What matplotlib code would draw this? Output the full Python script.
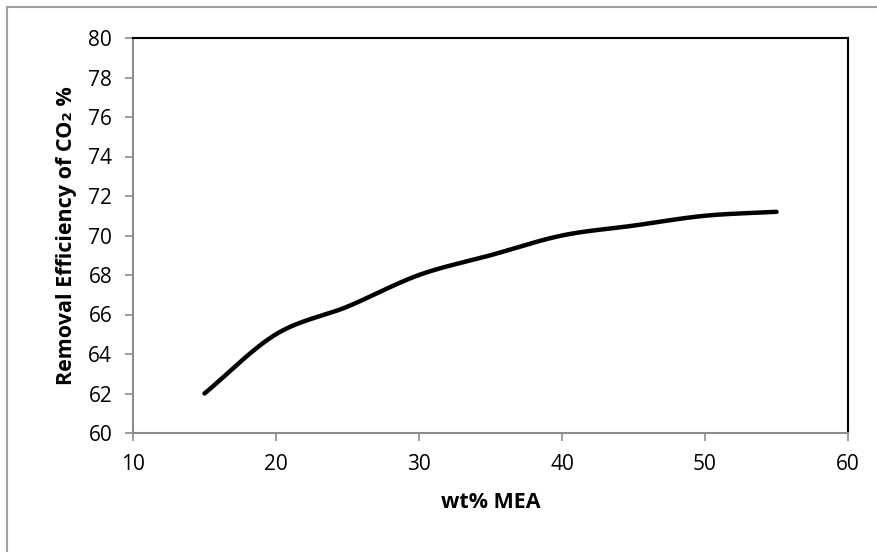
import numpy as np
import matplotlib
matplotlib.use("Agg")
import matplotlib.pyplot as plt
from matplotlib.patches import Rectangle

wt_mea = [15, 20, 25, 30, 35, 40, 45, 50, 55]
efficiency = [62.0, 65.0, 66.4, 68.0, 69.0, 70.0, 70.5, 71.0, 71.2]
x_ticks = [10, 20, 30, 40, 50, 60]
y_ticks = [60, 62, 64, 66, 68, 70, 72, 74, 76, 78, 80]

def catmull_rom(x, y, n=30):
    x = np.asarray(x, float); y = np.asarray(y, float)
    px = np.concatenate([[2*x[0]-x[1]], x, [2*x[-1]-x[-2]]])
    py = np.concatenate([[2*y[0]-y[1]], y, [2*y[-1]-y[-2]]])
    t = np.linspace(0, 1, n)
    xs, ys = [], []
    for i in range(1, len(px)-2):
        for arr, out in ((px, xs), (py, ys)):
            p0, p1, p2, p3 = arr[i-1], arr[i], arr[i+1], arr[i+2]
            out.append(0.5*((2*p1) + (-p0+p2)*t + (2*p0-5*p1+4*p2-p3)*t**2 + (-p0+3*p1-3*p2+p3)*t**3))
    return np.concatenate(xs), np.concatenate(ys)

plt.rcParams['font.family'] = ['Open Sans', 'DejaVu Sans']
W, H = 877, 552
fig = plt.figure(figsize=(W/100, H/100), dpi=100)
ax = fig.add_axes([133/W, 1-433/H, 715/W, 395/H])

sx, sy = catmull_rom(wt_mea, efficiency)
ax.plot(sx, sy, color='black', lw=3.2, solid_capstyle='round')

ax.set_xlim(10, 60)
ax.set_ylim(60, 80)
ax.set_xticks(x_ticks)
ax.set_yticks(y_ticks)
ax.tick_params(direction='out', length=6, width=1.2, color='#8c8c8c', labelsize=15, pad=9)
for s in ('left', 'bottom'):
    ax.spines[s].set_color('#8c8c8c'); ax.spines[s].set_linewidth(1.5)
for s in ('top', 'right'):
    ax.spines[s].set_color('black'); ax.spines[s].set_linewidth(1.5)

ax.set_xlabel('wt% MEA', fontsize=15.5, fontweight='bold', labelpad=12)
ax.set_ylabel('Removal Efficiency of CO₂ %', fontsize=15.5, fontweight='bold', labelpad=8)

fig.patches.append(Rectangle((7/W, -0.1), 1.2, 1-7/H+0.1, transform=fig.transFigure,
                             fill=False, edgecolor='#a0a0a0', lw=1.5))
fig.savefig('out.png', dpi=100)
